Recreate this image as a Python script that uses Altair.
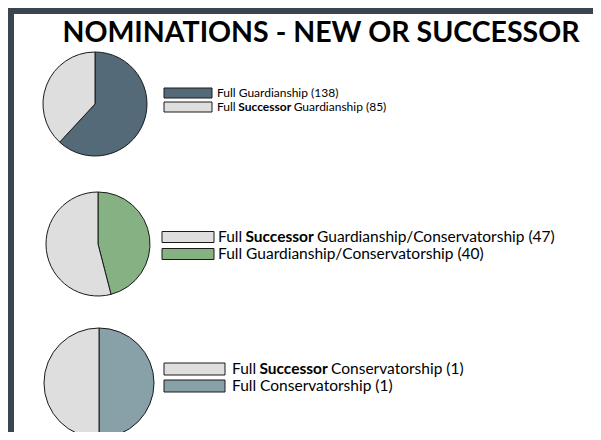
import altair as alt
import pandas as pd

# ---- data ----
pie_group = ["A", "A", "B", "B", "C", "C"]
slice_label = [
    "Full Guardianship",
    "Full Successor Guardianship",
    "Full Guardianship/Conservatorship",
    "Full Successor Guardianship/Conservatorship",
    "Full Conservatorship",
    "Full Successor Conservatorship",
]
slice_value = [138, 85, 40, 47, 1, 1]
slice_color = ["#546a78", "#dedede", "#85b183", "#dedede", "#88a1a9", "#dedede"]
slice_order = [1, 2, 1, 2, 1, 2]

title_text = "NOMINATIONS - NEW OR SUCCESSOR"

# legend rows
legend_group = ["A", "A", "B", "B", "C", "C"]
legend_prefix = ["Full Guardianship (138)", "Full ", "Full ", "Full Guardianship/Conservatorship (40)", "Full ", "Full Conservatorship (1)"]
legend_bold = ["", "Successor", "Successor", "", "Successor", ""]
legend_suffix = ["", " Guardianship (85)", " Guardianship/Conservatorship (47)", "", " Conservatorship (1)", ""]
legend_color = ["#546a78", "#dedede", "#dedede", "#85b183", "#dedede", "#88a1a9"]

df = pd.DataFrame({
    "group": pie_group, "label": slice_label, "value": slice_value,
    "color": slice_color, "order": slice_order,
})
one = pd.DataFrame({"k": [0]})

FONT = "Lato"
W, H = 585, 424

# layout (styling only)
pie_pos = {"A": (87, 96, 52), "B": (90, 236, 52), "C": (91, 375, 55)}
leg_pos = {
    "A": dict(x0=156, x1=204, ys=[85, 99], hh=5, tx=209, fs=12),
    "B": dict(x0=154, x1=206, ys=[229, 246], hh=5.5, tx=210, fs=15.5),
    "C": dict(x0=156, x1=217, ys=[361, 378], hh=6, tx=224, fs=15.5),
}

layers = []

# border
border_color = "#3b4550"
layers.append(alt.Chart(one).mark_rect(color=border_color).encode(
    x=alt.value(0), x2=alt.value(6), y=alt.value(0), y2=alt.value(H)))
layers.append(alt.Chart(one).mark_rect(color=border_color).encode(
    x=alt.value(0), x2=alt.value(W), y=alt.value(0), y2=alt.value(6)))

# title
layers.append(alt.Chart(pd.DataFrame({"t": [title_text]})).mark_text(
    font=FONT, fontWeight="bold", fontSize=28.5, color="#000000", align="center", baseline="alphabetic"
).encode(text="t:N", x=alt.value(313), y=alt.value(34)))

# pies
pie_layers = []
for g, (cx, cy, r) in pie_pos.items():
    pie_layers.append(
        alt.Chart(df).transform_filter(alt.datum.group == g).mark_arc(
            radius=r, stroke="#1a1a1a", strokeWidth=1
        ).encode(
            theta=alt.Theta("value:Q", stack=True),
            color=alt.Color("color:N", scale=None),
            order=alt.Order("order:Q"),
            x=alt.value(cx), y=alt.value(cy),
        )
    )

# legends
idx_in_group = {}
for i, g in enumerate(legend_group):
    k = idx_in_group.get(g, 0)
    idx_in_group[g] = k + 1
    p = leg_pos[g]
    yc = p["ys"][k]
    fs = p["fs"]
    layers.append(alt.Chart(one).mark_rect(color=legend_color[i], stroke="#1a1a1a", strokeWidth=1).encode(
        x=alt.value(p["x0"]), x2=alt.value(p["x1"]),
        y=alt.value(yc - p["hh"]), y2=alt.value(yc + p["hh"])))
    pw = 1.77 * fs
    bw = 4.62 * fs
    segs = [(legend_prefix[i], "normal", 0)]
    if legend_bold[i]:
        segs.append((legend_bold[i], "bold", pw))
        segs.append((legend_suffix[i], "normal", pw + bw))
    for txt, wt, off in segs:
        layers.append(alt.Chart(pd.DataFrame({"t": [txt]})).mark_text(
            font=FONT, fontWeight=wt, fontSize=fs, color="#000000", align="left", baseline="middle"
        ).encode(text="t:N", x=alt.value(p["tx"] + off), y=alt.value(yc)))

pies = alt.layer(*pie_layers).resolve_scale(theta="independent")
chart = alt.layer(*layers, pies).properties(
    width=W, height=H, padding=0, background="#ffffff",
    autosize=alt.AutoSizeParams(type="none"),
).configure_view(stroke=None)

chart.save("out.html", embed_options={"renderer": "svg", "actions": False})
